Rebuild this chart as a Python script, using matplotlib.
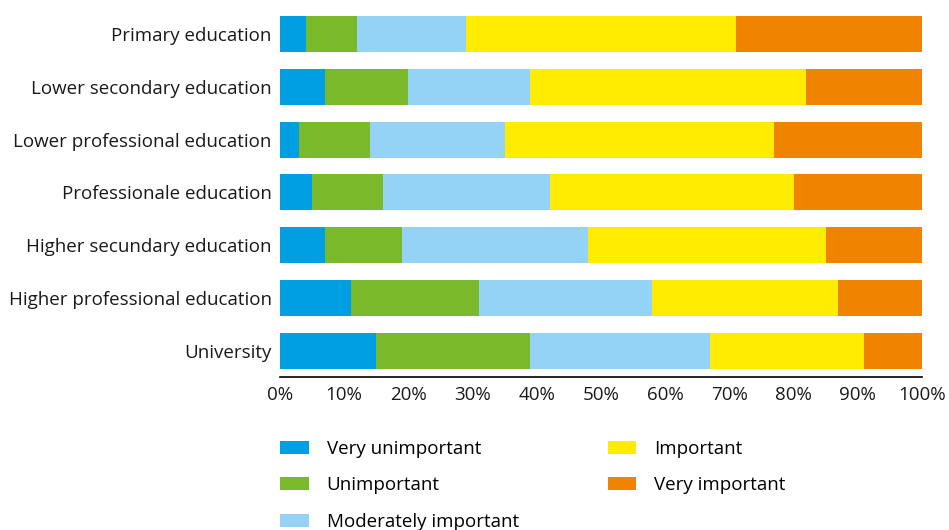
import matplotlib
matplotlib.use('Agg')
import matplotlib.pyplot as plt
import numpy as np

plt.rcParams['font.family'] = ['Open Sans', 'DejaVu Sans']

categories = ['Primary education', 'Lower secondary education', 'Lower professional education',
              'Professionale education', 'Higher secundary education',
              'Higher professional education', 'University']
series = ['Very unimportant', 'Unimportant', 'Moderately important', 'Important', 'Very important']
very_unimportant = [4, 7, 3, 5, 7, 11, 15]
unimportant = [8, 13, 11, 11, 12, 20, 24]
moderately = [17, 19, 21, 26, 29, 27, 28]
important = [42, 43, 42, 38, 37, 29, 24]
very_important = [29, 18, 23, 20, 15, 13, 9]
colors = ['#009fe3', '#7ab929', '#94d3f5', '#ffec00', '#f08300']

values = [very_unimportant, unimportant, moderately, important, very_important]

fig = plt.figure(figsize=(9.49, 5.30), dpi=100)
ax = fig.add_axes([0.295, 0.288, 0.6765, 0.698])

y = np.arange(len(categories))
left = np.zeros(len(categories))
for vals, name, c in zip(values, series, colors):
    ax.barh(y, vals, left=left, height=0.68, color=c, label=name)
    left += np.array(vals)

fs = 13.5
ax.set_xlim(0, 100)
ax.set_ylim(len(categories) - 0.5, -0.5)
ax.set_yticks(y)
ax.set_yticklabels(categories, fontsize=fs, color='#1a1a1a', va='center_baseline')
ax.set_xticks(range(0, 101, 10))
ax.set_xticklabels([f'{v}%' for v in range(0, 101, 10)], fontsize=fs, color='#1a1a1a')
ax.tick_params(axis='y', length=0, pad=6)
ax.tick_params(axis='x', length=0, pad=6)
for s in ['top', 'right', 'left']:
    ax.spines[s].set_visible(False)
ax.spines['bottom'].set_color('black')
ax.spines['bottom'].set_linewidth(1.2)

fig.legend(loc='upper left', bbox_to_anchor=(0.2955, 0.1705), ncol=2, frameon=False,
           fontsize=fs, handlelength=1.5, handleheight=0.7, handletextpad=0.96,
           columnspacing=4.76, labelspacing=1.0, borderaxespad=0, borderpad=0)

fig.savefig('out.png', dpi=100)
